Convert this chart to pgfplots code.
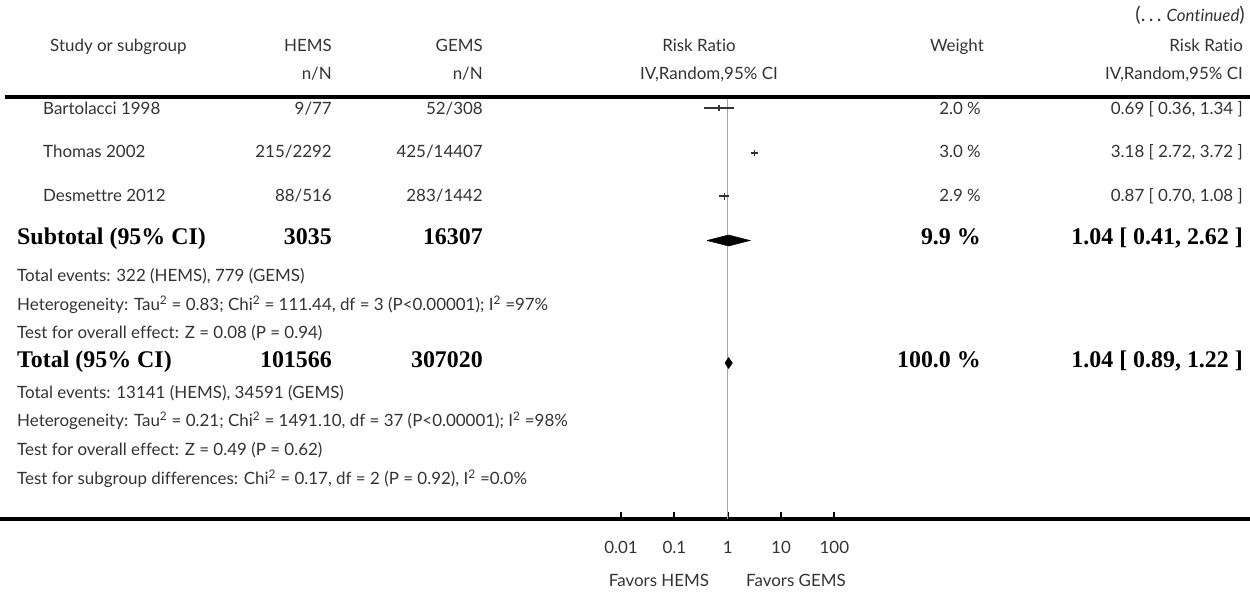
\documentclass[border=0pt]{standalone}
\usepackage{fontspec}
\setmainfont{Lato}[Ligatures=NoCommon]
\newfontfamily\bsf{Liberation Serif}
\usepackage{pgfplots}
\pgfplotsset{compat=1.18}
\newcommand{\rg}{\fontsize{17}{19}\selectfont}
\newcommand{\bd}{\bsf\bfseries\fontsize{24}{26}\selectfont}
\definecolor{txt}{HTML}{333333}
\begin{document}
\begin{tikzpicture}[x=1bp,y=1bp]
\useasboundingbox (0,0) rectangle (1250,-601);
\begin{axis}[
    at={(0bp,-519bp)}, anchor=south west,
    width=1250bp, height=422bp, scale only axis,
    xmode=log, xmin=2.265e-14, xmax=6.22e9,
    ymin=-519, ymax=-97,
    hide y axis, axis x line*=bottom,
    x axis line style={line width=4bp,-},
    xtick={0.01,0.1,1,10,100},
    xticklabels={0.01,0.1,1,10,100},
    xminorticks=false,
    tick align=inside, major tick length=7bp,
    xtick style={line width=1.8bp,black},
    xticklabel style={font=\rg, text=txt, anchor=mid, yshift=-32bp},
    clip=false,
]
% line of no effect
\addplot[gray!70, line width=1.2bp] coordinates {(1,-97) (1,-519)};
% Bartolacci 1998
\addplot[black!80, line width=1.3bp] coordinates {(0.36,-108) (1.34,-108)};
\addplot[black!80, only marks, mark=|, mark size=3bp, mark options={line width=1.5bp}] coordinates {(0.69,-108)};
% Thomas 2002
\addplot[black!80, line width=1.3bp] coordinates {(2.72,-153) (3.72,-153)};
\addplot[black!80, only marks, mark=|, mark size=3bp, mark options={line width=1.5bp}] coordinates {(3.18,-153)};
% Desmettre 2012
\addplot[black!80, line width=1.3bp] coordinates {(0.70,-196) (1.08,-196)};
\addplot[black!80, only marks, mark=|, mark size=3.5bp, mark options={line width=1.5bp}] coordinates {(0.87,-196)};
% Subtotal diamond
\addplot[fill=black, draw=black, line width=0.5bp] coordinates {(0.41,-240.5) (1.04,-235) (2.62,-240.5) (1.04,-246) (0.41,-240.5)};
% Total diamond
\addplot[fill=black, draw=black, line width=0.5bp] coordinates {(0.89,-363) (1.04,-357.5) (1.22,-363) (1.04,-368.5) (0.89,-363)};
\end{axis}

\draw[line width=4bp] (5,-97) -- (1250,-97);

\begin{scope}[every node/.style={text=txt, inner sep=0pt, font=\rg, yshift=-2bp}]
% header
\node[anchor=mid east] at (1245,-17) {{\rmfamily\fontsize{20}{22}\selectfont(.\,.\,.\ }{\itshape Continued}{\rmfamily\fontsize{20}{22}\selectfont)}};
\node[anchor=mid west] at (50,-47) {Study or subgroup};
\node[anchor=mid east] at (332,-47) {HEMS};
\node[anchor=mid east] at (332,-75) {n/N};
\node[anchor=mid east] at (483,-47) {GEMS};
\node[anchor=mid east] at (483,-75) {n/N};
\node[anchor=mid] at (699,-47) {Risk Ratio};
\node[anchor=mid] at (709,-75) {IV,Random,95\% CI};
\node[anchor=mid east] at (984,-47) {Weight};
\node[anchor=mid east] at (1243,-47) {Risk Ratio};
\node[anchor=mid east] at (1243,-75) {IV,Random,95\% CI};
% studies
\node[anchor=mid west] at (43,-110) {Bartolacci 1998};
\node[anchor=mid east] at (332,-110) {9/77};
\node[anchor=mid east] at (483,-110) {52/308};
\node[anchor=mid east] at (981,-110) {2.0 \%};
\node[anchor=mid east] at (1243,-110) {0.69 [ 0.36, 1.34 ]};
\node[anchor=mid west] at (43,-153) {Thomas 2002};
\node[anchor=mid east] at (332,-153) {215/2292};
\node[anchor=mid east] at (483,-153) {425/14407};
\node[anchor=mid east] at (981,-153) {3.0 \%};
\node[anchor=mid east] at (1243,-153) {3.18 [ 2.72, 3.72 ]};
\node[anchor=mid west] at (43,-197) {Desmettre 2012};
\node[anchor=mid east] at (332,-197) {88/516};
\node[anchor=mid east] at (483,-197) {283/1442};
\node[anchor=mid east] at (981,-197) {2.9 \%};
\node[anchor=mid east] at (1243,-197) {0.87 [ 0.70, 1.08 ]};
% subtotal
\node[anchor=mid west, font=\bd, text=black] at (17,-240) {Subtotal (95\% CI)};
\node[anchor=mid east, font=\bd, text=black] at (332,-240) {3035};
\node[anchor=mid east, font=\bd, text=black] at (483,-240) {16307};
\node[anchor=mid east, font=\bd, text=black] at (981,-240) {9.9 \%};
\node[anchor=mid east, font=\bd, text=black] at (1243,-240) {1.04 [ 0.41, 2.62 ]};
\node[anchor=mid west] at (17,-277) {Total events: 322 (HEMS), 779 (GEMS)};
\node[anchor=mid west] at (17,-306) {Heterogeneity: Tau\textsuperscript{2} = 0.83; Chi\textsuperscript{2} = 111.44, df = 3 (P<0.00001); I\textsuperscript{2} =97\%};
\node[anchor=mid west] at (17,-334) {Test for overall effect: Z = 0.08 (P = 0.94)};
% total
\node[anchor=mid west, font=\bd, text=black] at (17,-363) {Total (95\% CI)};
\node[anchor=mid east, font=\bd, text=black] at (332,-363) {101566};
\node[anchor=mid east, font=\bd, text=black] at (483,-363) {307020};
\node[anchor=mid east, font=\bd, text=black] at (981,-363) {100.0 \%};
\node[anchor=mid east, font=\bd, text=black] at (1243,-363) {1.04 [ 0.89, 1.22 ]};
\node[anchor=mid west] at (17,-394) {Total events: 13141 (HEMS), 34591 (GEMS)};
\node[anchor=mid west] at (17,-422) {Heterogeneity: Tau\textsuperscript{2} = 0.21; Chi\textsuperscript{2} = 1491.10, df = 37 (P<0.00001); I\textsuperscript{2} =98\%};
\node[anchor=mid west] at (17,-451) {Test for overall effect: Z = 0.49 (P = 0.62)};
\node[anchor=mid west] at (17,-480) {Test for subgroup differences: Chi\textsuperscript{2} = 0.17, df = 2 (P = 0.92), I\textsuperscript{2} =0.0\%};
% favours
\node[anchor=mid] at (659,-582) {Favors HEMS};
\node[anchor=mid] at (796,-582) {Favors GEMS};
\end{scope}
\end{tikzpicture}
\end{document}
